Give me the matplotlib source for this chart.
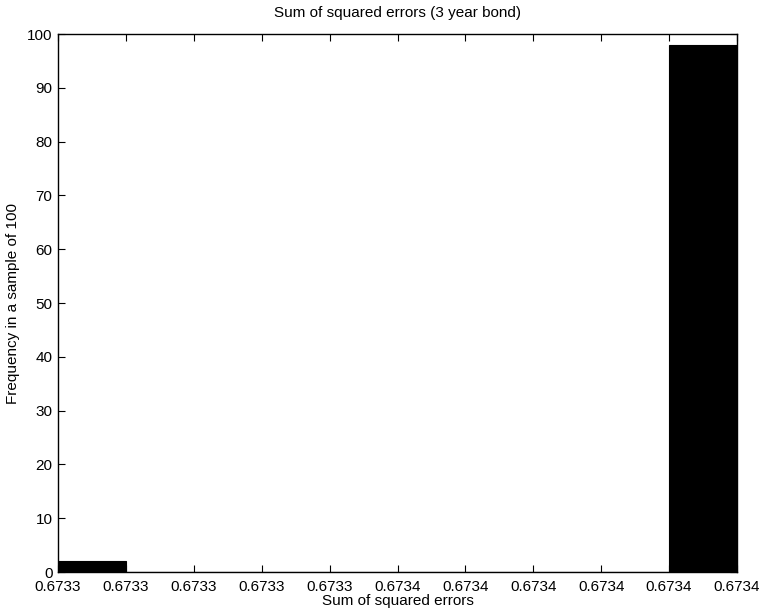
import matplotlib.pyplot as plt
import numpy as np

plt.rcParams['font.family'] = ['Liberation Sans', 'DejaVu Sans']

# histogram of sum of squared errors over 100 samples, 10 bins
bin_lo = 0.67333
bin_hi = 0.673375
counts = [2, 0, 0, 0, 0, 0, 0, 0, 0, 98]

edges = np.linspace(bin_lo, bin_hi, len(counts) + 1)
width = edges[1] - edges[0]

fig = plt.figure(figsize=(7.61, 6.14), dpi=100)
ax = fig.add_axes([0.0762, 0.0684, 0.8923, 0.8762])

ax.bar(edges[:-1], counts, width=width, align='edge', color='black', edgecolor='black', linewidth=0.8)

ax.set_xlim(bin_lo, bin_hi)
ax.set_ylim(0, 100)
ax.set_xticks(edges)
ax.set_xticklabels([f'{v:.4f}' for v in edges])
ax.set_yticks(np.arange(0, 101, 10))

ax.tick_params(direction='in', top=True, right=True, length=5, labelsize=11)
ax.tick_params(axis='x', pad=6)
ax.tick_params(axis='y', pad=4)
for s in ax.spines.values():
    s.set_linewidth(1.0)

ax.set_title('Sum of squared errors (3 year bond)', fontsize=11, pad=12)
ax.set_xlabel('Sum of squared errors', fontsize=11, labelpad=0)
ax.set_ylabel('Frequency in a sample of 100', fontsize=11, labelpad=5)

fig.savefig('out.png', dpi=100)
